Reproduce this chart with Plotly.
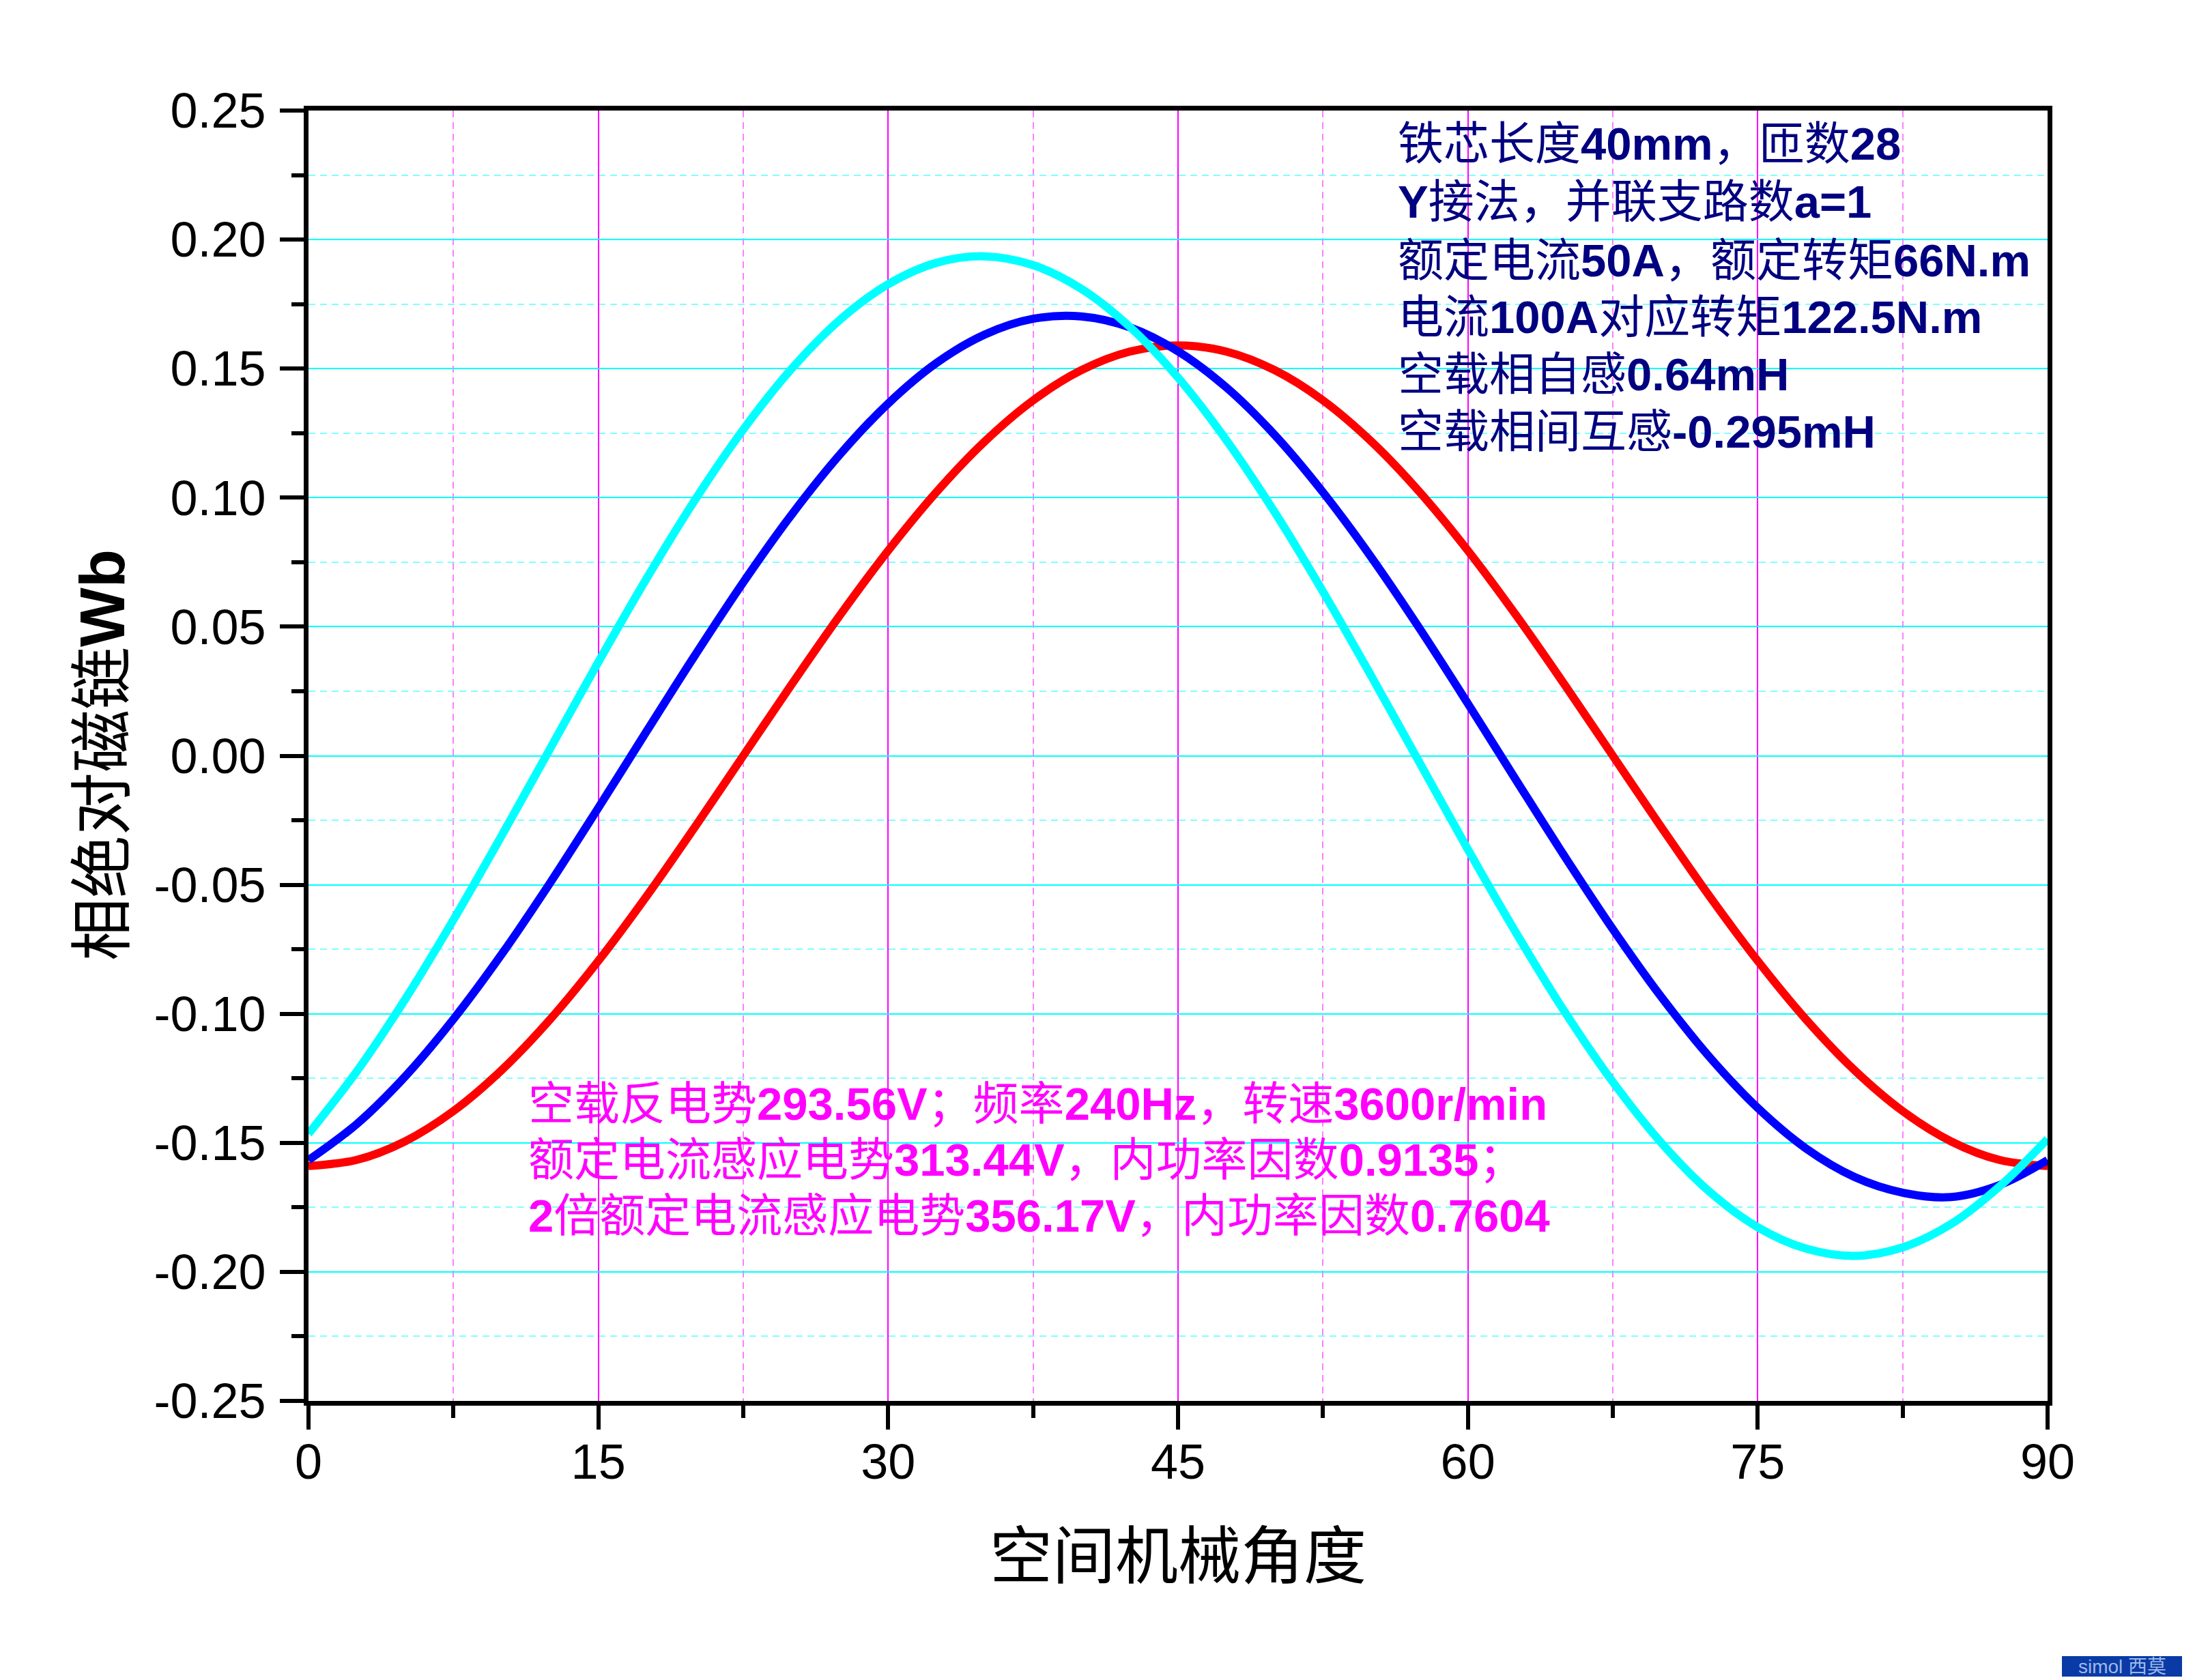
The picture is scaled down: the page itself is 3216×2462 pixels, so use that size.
import plotly.graph_objects as go

# ---- data ----
angle_deg = [0, 2.5, 5, 7.5, 10, 12.5, 15, 17.5, 20, 22.5, 25, 27.5, 30, 32.5, 35, 37.5, 40, 42.5, 45,
             47.5, 50, 52.5, 55, 57.5, 60, 62.5, 65, 67.5, 70, 72.5, 75, 77.5, 80, 82.5, 85, 87.5, 90]

flux_red = [-0.1590, -0.1566, -0.1494, -0.1377, -0.1218, -0.1022, -0.0795, -0.0544, -0.0276, 0.0000,
            0.0276, 0.0544, 0.0795, 0.1022, 0.1218, 0.1377, 0.1494, 0.1566, 0.1590, 0.1566, 0.1494,
            0.1377, 0.1218, 0.1022, 0.0795, 0.0544, 0.0276, 0.0000, -0.0276, -0.0544, -0.0795,
            -0.1022, -0.1218, -0.1377, -0.1494, -0.1566, -0.1590]

flux_blue = [-0.1567, -0.1427, -0.1243, -0.1021, -0.0769, -0.0493, -0.0202, 0.0095, 0.0389, 0.0672,
             0.0934, 0.1167, 0.1365, 0.1522, 0.1632, 0.1693, 0.1702, 0.1660, 0.1567, 0.1427, 0.1243,
             0.1021, 0.0769, 0.0493, 0.0202, -0.0095, -0.0389, -0.0672, -0.0934, -0.1167, -0.1365,
             -0.1522, -0.1632, -0.1693, -0.1710, -0.1664, -0.1567]

flux_cyan = [-0.1465, -0.1223, -0.0944, -0.0636, -0.0309, 0.0027, 0.0363, 0.0687, 0.0991, 0.1264,
             0.1499, 0.1689, 0.1827, 0.1910, 0.1935, 0.1901, 0.1809, 0.1662, 0.1465, 0.1223, 0.0944,
             0.0636, 0.0309, -0.0027, -0.0363, -0.0687, -0.0991, -0.1264, -0.1499, -0.1689, -0.1827,
             -0.1910, -0.1938, -0.1905, -0.1815, -0.1670, -0.1485]

x_ticks = [0, 15, 30, 45, 60, 75, 90]
x_tick_labels = ["0", "15", "30", "45", "60", "75", "90"]
y_ticks = [0.25, 0.20, 0.15, 0.10, 0.05, 0.00, -0.05, -0.10, -0.15, -0.20, -0.25]
y_tick_labels = ["0.25", "0.20", "0.15", "0.10", "0.05", "0.00", "-0.05", "-0.10", "-0.15", "-0.20", "-0.25"]

x_title = "空间机械角度"
y_title = "相绝对磁链<b>Wb</b>"

info_lines = [
    "铁芯长度<b>40mm</b>，匝数<b>28</b>",
    "<b>Y</b>接法，并联支路数<b>a=1</b>",
    "额定电流<b>50A</b>，额定转矩<b>66N.m</b>",
    "电流<b>100A</b>对应转矩<b>122.5N.m</b>",
    "空载相自感<b>0.64mH</b>",
    "空载相间互感<b>-0.295mH</b>",
]
emf_lines = [
    "空载反电势<b>293.56V</b>；频率<b>240Hz</b>，转速<b>3600r/min</b>",
    "额定电流感应电势<b>313.44V</b>，内功率因数<b>0.9135</b>；",
    "<b>2</b>倍额定电流感应电势<b>356.17V</b>，内功率因数<b>0.7604</b>",
]

FONT = "Liberation Sans, Arial, Noto Sans CJK SC, sans-serif"
CJK = "Liberation Sans, Noto Sans CJK SC, sans-serif"

fig = go.Figure()
for ys, col in [(flux_red, "#FF0000"), (flux_blue, "#0000FF"), (flux_cyan, "#00FFFF")]:
    fig.add_trace(go.Scatter(x=angle_deg, y=ys, mode="lines",
                             line=dict(color=col, width=12, shape="spline", smoothing=1.0),
                             showlegend=False))

W, H = 3216, 2462
PL, PR, PT, PB = 452, 3000, 162, 2053          # plot area (screen px)
L, T = PL, PT
R = W - PR
B = H - PB
pw, ph = PR - PL, PB - PT

def px(xs):
    return (xs - PL) / pw

def py(ys):
    return (PB - ys) / ph

annotations = []
info_y = [211, 295, 381, 465, 548, 632]
for txt, yy in zip(info_lines, info_y):
    annotations.append(dict(text=txt, xref="paper", yref="paper", x=px(2046), y=py(yy),
                            xanchor="left", yanchor="middle", showarrow=False,
                            font=dict(family=CJK, size=67, color="#000080")))
emf_y = [1617, 1699, 1781]
for txt, yy in zip(emf_lines, emf_y):
    annotations.append(dict(text=txt, xref="paper", yref="paper", x=px(772), y=py(yy),
                            xanchor="left", yanchor="middle", showarrow=False,
                            font=dict(family=CJK, size=67, color="#FF00FF")))

annotations.append(dict(text=x_title, xref="paper", yref="paper", x=px(1726), y=py(2281),
                        xanchor="center", yanchor="middle", showarrow=False,
                        font=dict(family=CJK, size=92, color="black")))
annotations.append(dict(text=y_title, xref="paper", yref="paper", x=px(150), y=py(1107),
                        xanchor="center", yanchor="middle", showarrow=False, textangle=-90,
                        font=dict(family=CJK, size=92, color="black")))
# watermark
annotations.append(dict(text="simol 西莫", xref="paper", yref="paper", x=px(3109), y=py(2442),
                        xanchor="center", yanchor="middle", showarrow=False,
                        font=dict(family=CJK, size=28, color="#9DB8E8")))

shapes = [dict(type="rect", xref="paper", yref="paper", x0=px(3021), x1=px(3197),
               y0=py(2457), y1=py(2427), fillcolor="#0A3AA6", line=dict(width=0), layer="below")]

fig.update_layout(
    width=W, height=H,
    margin=dict(l=L, r=R, t=T, b=B, pad=0),
    paper_bgcolor="white", plot_bgcolor="white",
    font=dict(family=FONT, color="black"),
    annotations=annotations, shapes=shapes,
    xaxis=dict(range=[0, 90], tickmode="array", tickvals=x_ticks, ticktext=x_tick_labels,
               ticks="outside", ticklen=35, tickwidth=6, tickcolor="black",
               showline=True, linewidth=7, linecolor="black", mirror=True,
               showgrid=True, gridcolor="#FF00FF", gridwidth=2,
               zeroline=False, ticklabelstandoff=-14,
               tickfont=dict(family=FONT, size=72, color="black"),
               minor=dict(tick0=0, dtick=7.5, ticks="outside", ticklen=18, tickwidth=6,
                          tickcolor="black", showgrid=True, gridcolor="#FF80FF",
                          gridwidth=2, griddash="10px,7px")),
    yaxis=dict(range=[-0.25, 0.25], tickmode="array", tickvals=y_ticks, ticktext=y_tick_labels,
               ticks="outside", ticklen=35, tickwidth=6, tickcolor="black",
               showline=True, linewidth=7, linecolor="black", mirror=True,
               showgrid=True, gridcolor="#00FFFF", gridwidth=2,
               zeroline=False, ticklabelstandoff=6,
               tickfont=dict(family=FONT, size=72, color="black"),
               minor=dict(tick0=0, dtick=0.025, ticks="outside", ticklen=18, tickwidth=6,
                          tickcolor="black", showgrid=True, gridcolor="#80FFFF",
                          gridwidth=2, griddash="10px,7px")),
)

fig.write_html("out.html", config={"displayModeBar": False},
               post_script="document.body.style.margin='0';document.body.style.overflow='hidden';")
